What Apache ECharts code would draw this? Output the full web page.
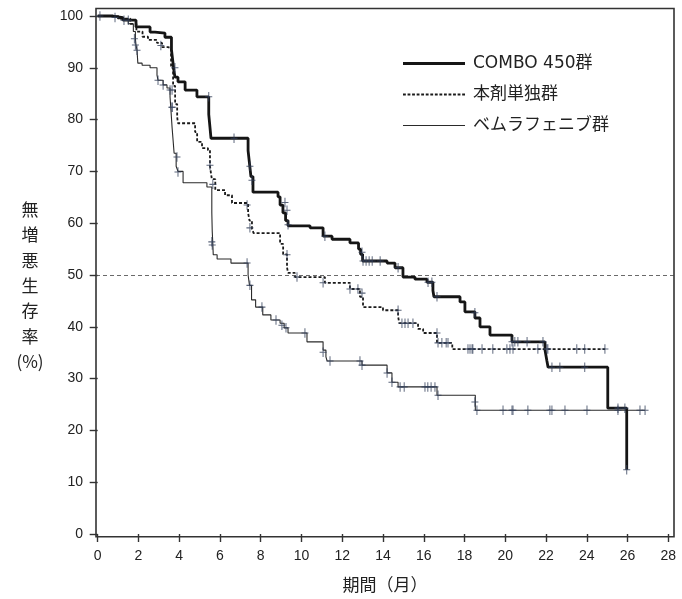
<!DOCTYPE html>
<html>
<head>
<meta charset="utf-8">
<script src="https://cdn.jsdelivr.net/npm/echarts@6/dist/echarts.min.js"></script>
<style>
html,body{margin:0;padding:0;background:#fff;}
#chart{width:682px;height:599px;}
</style>
</head>
<body>
<div id="chart"></div>
<script>
// ---- data (month, PFS %) ----
const seriesNames = ['COMBO 450群', '本剤単独群', 'ベムラフェニブ群'];
const xTicks = [0,2,4,6,8,10,12,14,16,18,20,22,24,26,28];
const yTicks = [0,10,20,30,40,50,60,70,80,90,100];
const refLine = 50;

const comboCurve = [
  [0,100],[0.75,99.7],[1.24,99.2],[1.88,97.9],[2.57,96.9],[2.81,96.7],[3.30,95.9],
  [3.62,93.5],[3.68,91.5],[3.74,89.5],[3.79,88.2],[3.94,87.3],[4.29,85.7],[4.87,84.4],
  [5.45,81.0],[5.51,78.5],[5.56,76.4],[7.38,74.0],[7.45,71.5],[7.52,69.0],[7.62,66.0],
  [8.85,65.1],[8.95,63.5],[9.09,62.0],[9.22,60.5],[9.34,59.5],[10.42,59.1],[11.06,57.5],
  [11.50,56.9],[12.38,56.2],[12.80,55.0],[12.90,54.0],[13.00,52.7],[14.20,52.3],
  [14.59,51.4],[14.98,49.6],[15.57,49.2],[16.16,48.6],[16.45,47.0],[16.50,45.8],
  [17.78,44.8],[18.02,42.9],[18.51,41.7],[18.76,40.0],[19.25,38.4],[20.33,37.1],
  [21.95,35.5],[22.04,33.5],[22.10,32.2],[25.03,24.3],[25.96,12.4]
];
const monoCurve = [
  [0,100],[1.0,99.5],[1.6,98.5],[1.9,97.0],[2.2,96.0],[2.47,95.4],[2.91,94.8],[3.16,94.0],
  [3.45,93.8],[3.6,90.0],[3.7,86.5],[3.8,83.0],[3.9,80.5],[3.94,79.3],[4.78,77.6],
  [4.88,75.7],[5.12,74.5],[5.41,74.1],[5.51,71.0],[5.6,68.5],[5.77,66.4],[6.25,65.4],
  [6.59,63.9],[7.38,62.0],[7.45,60.5],[7.57,58.9],[7.65,58.1],[8.95,56.0],[9.1,54.0],
  [9.29,51.5],[9.34,50.4],[9.68,49.6],[11.15,48.5],[12.38,47.3],[12.87,45.8],[13.02,43.8],
  [14.0,43.2],[14.74,42.0],[14.8,40.7],[15.72,39.6],[15.97,38.8],[16.65,36.9],[17.4,35.7],
  [24.9,35.7]
];
const vemuCurve = [
  [0,100],[1.0,99.5],[1.5,98.5],[1.75,97.0],[1.85,95.6],[1.88,94.4],[1.93,93.4],[1.97,90.9],
  [2.18,90.5],[2.57,90.0],[2.91,88.6],[2.96,87.6],[3.21,86.7],[3.40,86.1],[3.55,84.4],
  [3.6,81.5],[3.65,78.5],[3.7,76.0],[3.75,73.5],[3.85,71.0],[3.94,70.0],[4.19,67.8],
  [5.36,67.0],[5.6,62.0],[5.62,58.5],[5.65,56.0],[5.67,53.9],[5.86,53.1],[6.54,52.3],
  [7.38,50.0],[7.45,48.0],[7.55,45.2],[7.75,43.8],[8.1,42.3],[8.5,41.3],[8.95,40.7],
  [9.15,39.8],[9.34,38.8],[10.27,37.1],[11.06,35.5],[11.2,34.2],[11.26,33.4],[12.97,32.6],
  [14.2,31.1],[14.44,29.3],[14.74,28.4],[16.65,26.8],[18.53,23.9],[26.86,23.9]
];

const comboCensor = [
  [0.11,100],[0.85,99.7],[1.29,99.2],[1.5,99.2],[3.79,90.0],[5.45,84.4],[6.69,76.4],
  [7.47,71.0],[7.57,68.3],[9.19,64.0],[9.29,62.5],[9.34,59.7],[11.15,57.5],[12.97,54.4],
  [13.02,52.7],[13.17,52.7],[13.32,52.7],[13.47,52.7],[13.86,52.7],[14.74,51.4],
  [16.21,48.6],[16.40,48.6],[16.65,45.8],[18.51,42.7],[20.33,37.1],[20.47,37.1],
  [20.62,37.1],[21.07,37.1],[21.85,37.1],[22.29,32.2],[22.68,32.2],[23.9,32.2],
  [25.53,24.3],[25.87,24.3],[25.96,12.4]
];
const monoCensor = [
  [3.1,94.3],[3.65,85.7],[3.65,82.4],[5.51,71.2],[5.65,67.5],[7.33,63.5],[7.47,59.1],
  [9.29,53.9],[9.78,49.6],[11.06,48.5],[12.38,47.3],[12.77,47.3],[12.97,46.5],[14.74,43.2],
  [14.93,40.7],[15.08,40.7],[15.23,40.7],[15.47,40.7],[16.65,38.8],[16.7,36.9],[16.89,36.9],
  [17.1,36.9],[17.19,36.9],[18.17,35.7],[18.27,35.7],[18.37,35.7],[18.41,35.7],[18.86,35.7],
  [19.39,35.7],[20.08,35.7],[20.23,35.7],[20.38,35.7],[21.6,35.7],[22.04,35.7],[22.09,35.7],
  [23.51,35.7],[23.9,35.7],[24.89,35.7]
];
const vemuCensor = [
  [1.8,95.6],[1.85,94.4],[1.93,93.4],[2.96,87.6],[3.21,86.7],[3.55,85.7],[3.65,82.4],
  [3.89,72.8],[3.94,69.9],[5.6,56.4],[5.62,55.8],[7.33,52.3],[7.47,48.0],[8.06,43.8],
  [8.75,41.3],[9.04,40.3],[9.24,39.8],[10.17,38.8],[11.06,35.1],[11.4,33.4],[12.87,33.4],
  [12.97,32.6],[14.2,31.1],[14.44,29.3],[14.84,28.4],[15.04,28.4],[16.06,28.4],[16.2,28.4],
  [16.36,28.4],[16.55,28.4],[16.7,26.8],[18.51,25.5],[18.61,23.9],[19.89,23.9],[20.33,23.9],
  [20.38,23.9],[21.11,23.9],[22.19,23.9],[22.29,23.9],[22.93,23.9],[24.01,23.9],[25.53,23.9],
  [26.61,23.9],[26.86,23.9]
];

const yTitle = '無\n増\n悪\n生\n存\n率\n(%)';
const xTitle = '期間（月）';

// ---- legend icon shapes (style only) ----
let dotted = 'path://';
for (let i = 0; i < 62; i += 4.5) {
  const e = Math.min(i + 2.8, 62);
  dotted += 'M' + i + ',0H' + e + 'V1.8H' + i + 'Z';
}
const solidThick = 'path://M0,0H62V2.8H0Z';
const solidThin = 'path://M0,0H62V1.1H0Z';

// ---- chart ----
const chart = echarts.init(document.getElementById('chart'), null, {renderer: 'canvas'});
const plusPath = 'path://M4.3,0H5.7V10H4.3ZM0,4.45H10V5.55H0Z';
const censorColor = '#33405a';
const txt = '#222';

function censorSeries(name, data) {
  return {
    name: name, type: 'scatter', data: data, symbol: plusPath, symbolSize: [7, 9.5],
    itemStyle: {color: censorColor}, z: 5, silent: true
  };
}

chart.setOption({
  animation: false,
  backgroundColor: '#fff',
  grid: {left: 96, top: 8.5, right: 8, bottom: 62.3, show: true,
         borderColor: '#333', borderWidth: 1.6, backgroundColor: 'transparent'},
  xAxis: {
    type: 'value', min: -0.083, max: 28.28,
    axisLine: {show: false},
    axisTick: {show: true, length: 8, customValues: xTicks, lineStyle: {color: '#333', width: 1.4}},
    axisLabel: {customValues: xTicks, margin: 12, fontSize: 14, color: txt,
                fontFamily: 'Liberation Sans, Arial, sans-serif'},
    splitLine: {show: false},
    name: xTitle, nameLocation: 'middle', nameGap: 39,
    nameTextStyle: {fontSize: 17, color: txt, fontFamily: 'Noto Sans CJK JP'}
  },
  yAxis: {
    type: 'value', min: -0.52, max: 101.45,
    axisLine: {show: false},
    axisTick: {show: true, length: 8, customValues: yTicks, lineStyle: {color: '#333', width: 1.4}},
    axisLabel: {customValues: yTicks, margin: 13, fontSize: 14, color: txt,
                fontFamily: 'Liberation Sans, Arial, sans-serif'},
    splitLine: {show: false}
  },
  graphic: [{
    type: 'text', left: 14, top: 197,
    style: {text: yTitle, font: '17px "Noto Sans CJK JP"', fill: txt, lineHeight: 25.3, align: 'center',
            textAlign: 'center', width: 32}
  }],
  legend: {
    orient: 'vertical', left: 403, top: 55, padding: 0, itemWidth: 62, itemHeight: 20, itemGap: 14,
    data: [
      {name: seriesNames[0], icon: solidThick},
      {name: seriesNames[1], icon: dotted},
      {name: seriesNames[2], icon: solidThin}
    ],
    textStyle: {fontSize: 17, color: txt, fontFamily: 'DejaVu Sans, Noto Sans CJK JP',
                padding: [0, 0, 0, 3]}
  },
  series: [
    {name: seriesNames[2], type: 'line', step: 'end', data: vemuCurve, symbol: 'none', showSymbol: false,
     lineStyle: {color: '#2a2a2a', width: 1.1}, itemStyle: {color: '#2a2a2a'}, z: 2,
     markLine: {silent: true, symbol: 'none', label: {show: false},
       lineStyle: {color: '#444', width: 0.8, type: [4, 3]}, data: [{yAxis: refLine}]}},
    {name: seriesNames[1], type: 'line', step: 'end', data: monoCurve, symbol: 'none', showSymbol: false,
     lineStyle: {color: '#1a1a1a', width: 1.8, type: [3, 2]}, itemStyle: {color: '#1a1a1a'}, z: 3},
    {name: seriesNames[0], type: 'line', step: 'end', data: comboCurve, symbol: 'none', showSymbol: false,
     lineStyle: {color: '#151515', width: 2.8}, itemStyle: {color: '#151515'}, z: 4},
    censorSeries('c1', comboCensor),
    censorSeries('c2', monoCensor),
    censorSeries('c3', vemuCensor)
  ]
});
</script>
</body>
</html>
